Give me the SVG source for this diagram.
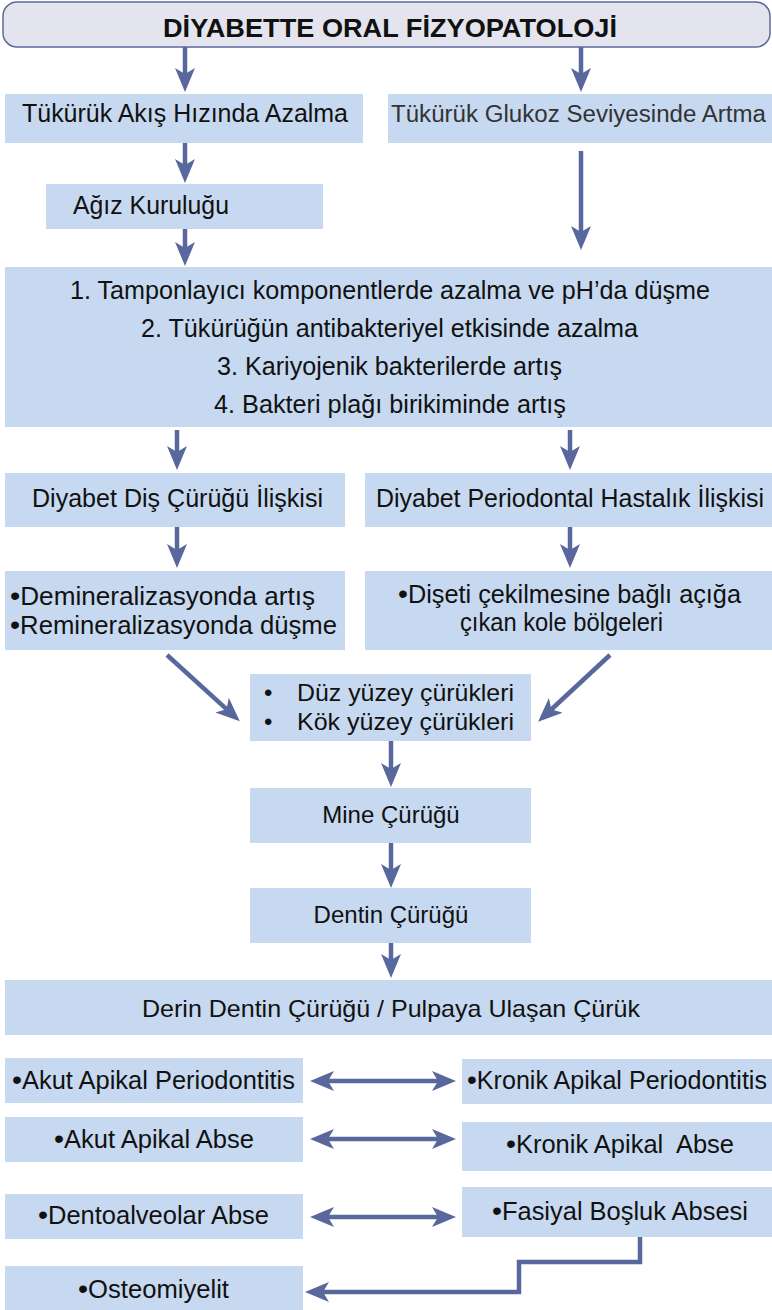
<svg xmlns="http://www.w3.org/2000/svg" width="772" height="1310" viewBox="0 0 772 1310">
  <style>
    .box { fill: #c6d9f0; }
    .title-box { fill: #e4e4ef; stroke: #5c6a9c; stroke-width: 1.5; }
    .t { font-family: "Liberation Sans", Arial, sans-serif; font-size: 25px; fill: #111; }
    .w { font-family: "Liberation Sans", Arial, sans-serif; font-size: 24px; fill: #111; }
    .title { font-family: "Liberation Sans", Arial, sans-serif; font-size: 25px; font-weight: bold; fill: #111; }
    .b { font-size: 28px; }
    .mid { text-anchor: middle; }
    .conn { fill: none; stroke: #58679c; stroke-width: 4.5; }
  </style>
  <defs>
    <marker id="head" viewBox="0 0 24 20" markerUnits="userSpaceOnUse" markerWidth="24" markerHeight="20" refX="6" refY="10" orient="auto-start-reverse">
      <path d="M0,0 L24,10 L0,20 L6,10 z" fill="#58679c"/>
    </marker>
  </defs>

  <!-- Title -->
  <g id="title">
    <rect class="title-box" x="3" y="2" width="767" height="45" rx="14" ry="14"/>
    <text class="title" x="163" y="37" textLength="454" lengthAdjust="spacingAndGlyphs">DİYABETTE ORAL FİZYOPATOLOJİ</text>
  </g>

  <!-- Saliva branches -->
  <g id="akis-hizi">
    <rect class="box" x="5" y="94" width="358" height="49"/>
    <text class="t" x="22" y="122" textLength="326" lengthAdjust="spacingAndGlyphs">Tükürük Akış Hızında Azalma</text>
  </g>
  <g id="glukoz">
    <rect class="box" x="388" y="94" width="384" height="49"/>
    <text class="t" x="391" y="122" style="font-size:23.5px; fill:#333" textLength="375" lengthAdjust="spacingAndGlyphs">Tükürük Glukoz Seviyesinde Artma</text>
  </g>
  <g id="agiz-kurulugu">
    <rect class="box" x="46" y="184" width="277" height="45"/>
    <text class="t" x="73" y="214" textLength="156" lengthAdjust="spacingAndGlyphs">Ağız Kuruluğu</text>
  </g>

  <!-- Combined effects -->
  <g id="etkiler">
    <rect class="box" x="5" y="267" width="767" height="160"/>
    <text class="t" x="70" y="299" textLength="640" lengthAdjust="spacingAndGlyphs">1. Tamponlayıcı komponentlerde azalma ve pH’da düşme</text>
    <text class="t" x="141" y="337" textLength="497" lengthAdjust="spacingAndGlyphs">2. Tükürüğün antibakteriyel etkisinde azalma</text>
    <text class="t" x="217" y="375" textLength="345" lengthAdjust="spacingAndGlyphs">3. Kariyojenik bakterilerde artış</text>
    <text class="t" x="214" y="413" textLength="352" lengthAdjust="spacingAndGlyphs">4. Bakteri plağı birikiminde artış</text>
  </g>

  <!-- Two relations -->
  <g id="dis-curugu">
    <rect class="box" x="5" y="473" width="340" height="54"/>
    <text class="t" x="32" y="507" textLength="291" lengthAdjust="spacingAndGlyphs">Diyabet Diş Çürüğü İlişkisi</text>
  </g>
  <g id="periodontal">
    <rect class="box" x="365" y="473" width="407" height="54"/>
    <text class="t" x="376" y="507" textLength="388" lengthAdjust="spacingAndGlyphs">Diyabet Periodontal Hastalık İlişkisi</text>
  </g>
  <g id="mineralizasyon">
    <rect class="box" x="5" y="571" width="340" height="79"/>
    <text class="t" x="10" y="605" textLength="305" lengthAdjust="spacingAndGlyphs"><tspan class="b">•</tspan>Demineralizasyonda artış</text>
    <text class="t" x="10" y="634" textLength="327" lengthAdjust="spacingAndGlyphs"><tspan class="b">•</tspan>Remineralizasyonda düşme</text>
  </g>
  <g id="diseti">
    <rect class="box" x="365" y="571" width="407" height="79"/>
    <text class="t" x="398" y="603" textLength="343" lengthAdjust="spacingAndGlyphs"><tspan class="b">•</tspan>Dişeti çekilmesine bağlı açığa</text>
    <text class="t" x="460" y="631" textLength="203" lengthAdjust="spacingAndGlyphs">çıkan kole bölgeleri</text>
  </g>

  <!-- Caries progression -->
  <g id="yuzey-curukleri">
    <rect class="box" x="250" y="674" width="281" height="67"/>
    <text class="w" x="264" y="701">•</text>
    <text class="w" x="297" y="701" textLength="217" lengthAdjust="spacingAndGlyphs">Düz yüzey çürükleri</text>
    <text class="w" x="264" y="730">•</text>
    <text class="w" x="297" y="730" textLength="217" lengthAdjust="spacingAndGlyphs">Kök yüzey çürükleri</text>
  </g>
  <g id="mine-curugu">
    <rect class="box" x="250" y="788" width="281" height="55"/>
    <text class="w mid" x="391" y="823">Mine Çürüğü</text>
  </g>
  <g id="dentin-curugu">
    <rect class="box" x="250" y="888" width="281" height="55"/>
    <text class="w mid" x="391" y="923">Dentin Çürüğü</text>
  </g>
  <g id="derin-dentin">
    <rect class="box" x="5" y="980" width="767" height="55"/>
    <text class="w" x="142" y="1017" textLength="498" lengthAdjust="spacingAndGlyphs">Derin Dentin Çürüğü / Pulpaya Ulaşan Çürük</text>
  </g>

  <!-- Periapical outcomes -->
  <g id="akut-periodontitis">
    <rect class="box" x="5" y="1058" width="298" height="45"/>
    <text class="t" x="12" y="1089" textLength="283" lengthAdjust="spacingAndGlyphs"><tspan class="b">•</tspan>Akut Apikal Periodontitis</text>
  </g>
  <g id="kronik-periodontitis">
    <rect class="box" x="462" y="1059" width="310" height="45"/>
    <text class="t" x="467" y="1089" textLength="300" lengthAdjust="spacingAndGlyphs"><tspan class="b">•</tspan>Kronik Apikal Periodontitis</text>
  </g>
  <g id="akut-abse">
    <rect class="box" x="5" y="1117" width="298" height="45"/>
    <text class="t" x="54" y="1148" textLength="200" lengthAdjust="spacingAndGlyphs"><tspan class="b">•</tspan>Akut Apikal Abse</text>
  </g>
  <g id="kronik-abse">
    <rect class="box" x="462" y="1122" width="310" height="49"/>
    <text class="t" x="506" y="1153" textLength="228" lengthAdjust="spacingAndGlyphs" xml:space="preserve"><tspan class="b">•</tspan>Kronik Apikal  Abse</text>
  </g>
  <g id="dentoalveolar">
    <rect class="box" x="5" y="1194" width="298" height="45"/>
    <text class="t" x="38" y="1224" textLength="231" lengthAdjust="spacingAndGlyphs"><tspan class="b">•</tspan>Dentoalveolar Abse</text>
  </g>
  <g id="fasiyal">
    <rect class="box" x="462" y="1187" width="310" height="50"/>
    <text class="t" x="492" y="1220" textLength="256" lengthAdjust="spacingAndGlyphs"><tspan class="b">•</tspan>Fasiyal Boşluk Absesi</text>
  </g>
  <g id="osteomiyelit">
    <rect class="box" x="5" y="1266" width="298" height="44"/>
    <text class="t" x="78" y="1298" textLength="151" lengthAdjust="spacingAndGlyphs"><tspan class="b">•</tspan>Osteomiyelit</text>
  </g>

  <!-- Connectors (lines end at the arrowhead notch; the tip reaches 18px further) -->
  <g id="connectors" class="conn" marker-end="url(#head)">
    <line x1="185" y1="47" x2="185" y2="74"/>
    <line x1="581" y1="47" x2="581" y2="74"/>
    <line x1="185" y1="143" x2="185" y2="165"/>
    <line x1="185" y1="229" x2="185" y2="248"/>
    <line x1="581" y1="151" x2="581" y2="232"/>
    <line x1="177" y1="430" x2="177" y2="452"/>
    <line x1="570" y1="430" x2="570" y2="452"/>
    <line x1="177" y1="527" x2="177" y2="550"/>
    <line x1="570" y1="527" x2="570" y2="550"/>
    <line x1="167" y1="655" x2="226.5" y2="709.2"/>
    <line x1="610" y1="655" x2="551.3" y2="709.5"/>
    <line x1="391" y1="741" x2="391" y2="769"/>
    <line x1="391" y1="843" x2="391" y2="870"/>
    <line x1="391" y1="943" x2="391" y2="960"/>
    <line x1="328" y1="1081" x2="438" y2="1081" marker-start="url(#head)"/>
    <line x1="328" y1="1139" x2="438" y2="1139" marker-start="url(#head)"/>
    <line x1="328" y1="1217" x2="438" y2="1217" marker-start="url(#head)"/>
    <path d="M640,1237 V1262 H519 V1292 H323"/>
  </g>
</svg>
